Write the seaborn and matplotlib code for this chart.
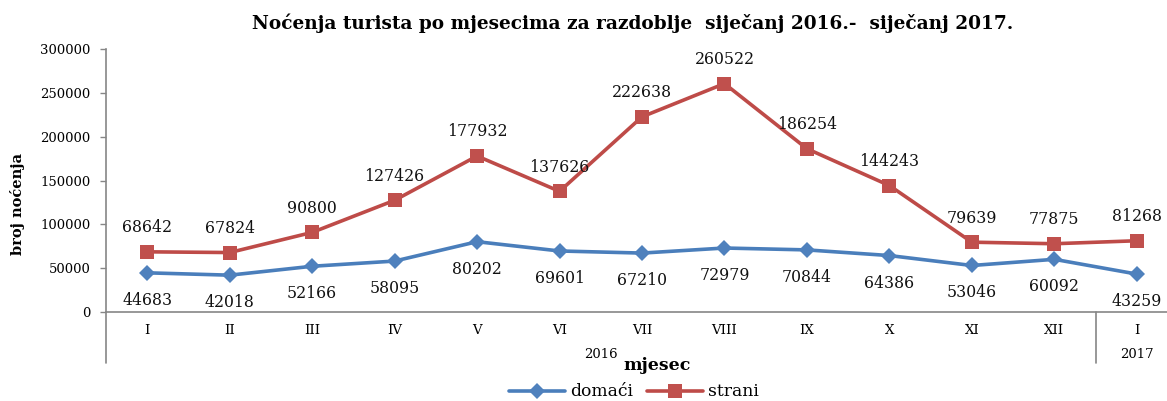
import matplotlib
matplotlib.use("Agg")
import matplotlib.pyplot as plt
import matplotlib.transforms as mtransforms
import pandas as pd
import seaborn as sns

# podaci
mjeseci = ["I", "II", "III", "IV", "V", "VI", "VII", "VIII", "IX", "X", "XI", "XII", "I"]
godine = ["2016"] * 12 + ["2017"]
domaci = [44683, 42018, 52166, 58095, 80202, 69601, 67210, 72979, 70844, 64386, 53046, 60092, 43259]
strani = [68642, 67824, 90800, 127426, 177932, 137626, 222638, 260522, 186254, 144243, 79639, 77875, 81268]
y_ticks = [0, 50000, 100000, 150000, 200000, 250000, 300000]

df = pd.DataFrame({"rb": range(len(mjeseci)), "mjesec": mjeseci, "godina": godine,
                   "domaći": domaci, "strani": strani})
long = df.melt(id_vars=["rb", "mjesec", "godina"], value_vars=["domaći", "strani"],
               var_name="serija", value_name="nocenja")

sns.set_theme(style="white")
plt.rcParams["font.family"] = ["DejaVu Serif"]
plt.rcParams["text.color"] = "black"
plt.rcParams["xtick.color"] = "black"
plt.rcParams["ytick.color"] = "black"

BLUE = "#4A7EBB"
RED = "#BE4B48"
GRAY = "#868686"

fig = plt.figure(figsize=(11.67, 4.01), dpi=100)
ax = fig.add_axes([106 / 1167, 89 / 401, 1072 / 1167, 263 / 401])

sns.lineplot(data=long, x="rb", y="nocenja", hue="serija", style="serija",
             palette={"domaći": BLUE, "strani": RED},
             markers={"domaći": "D", "strani": "s"}, dashes=False,
             linewidth=2.6, markersize=9, markeredgewidth=0, ax=ax)
for ln in ax.lines:
    if ln.get_marker() == "D":
        ln.set_markersize(8.3)
        ln.set_markerfacecolor("#4F81BD")
    elif ln.get_marker() == "s":
        ln.set_markersize(9.8)
        ln.set_markerfacecolor("#C0504D")

# oznake vrijednosti
for x, v in zip(df["rb"], df["strani"]):
    ax.annotate(f"{v}", (x, v), xytext=(0, 17.3), textcoords="offset points",
                ha="center", va="center", fontsize=11.3, color="#111111")
for x, v in zip(df["rb"], df["domaći"]):
    ax.annotate(f"{v}", (x, v), xytext=(0, -19.8), textcoords="offset points",
                ha="center", va="center", fontsize=11.3, color="#111111")

ax.set_xlim(-0.5, len(mjeseci) - 0.5)
ax.set_ylim(0, 300000)
ax.set_yticks(y_ticks)
ax.set_yticklabels([str(t) for t in y_ticks], fontsize=9.5)
ax.set_xticks(df["rb"])
ax.set_xticklabels(mjeseci, fontsize=9.5)
ax.tick_params(axis="y", length=4.3, width=1, color=GRAY, pad=7, left=True)
ax.tick_params(axis="x", length=0, pad=8.5)
ax.set_xlabel("")
ax.set_ylabel("")
ax.grid(False)
for s in ["top", "right"]:
    ax.spines[s].set_visible(False)
for s in ["left", "bottom"]:
    ax.spines[s].set_color(GRAY)
    ax.spines[s].set_linewidth(1.2)

# dvorazinska os kategorija
tr = mtransforms.blended_transform_factory(ax.transData, ax.transAxes)
ax.plot([-0.5, -0.5], [0, -51 / 263], transform=tr, color=GRAY, lw=1.2, clip_on=False)
ax.plot([11.5, 11.5], [0, -51 / 263], transform=tr, color=GRAY, lw=1.2, clip_on=False)
ax.text(5.5, -43 / 263, "2016", transform=tr, ha="center", va="center", fontsize=9.5)
ax.text(12, -43 / 263, "2017", transform=tr, ha="center", va="center", fontsize=9.5)

fig.text(633 / 1167, 1 - 23 / 401,
         "Noćenja turista po mjesecima za razdoblje  siječanj 2016.-  siječanj 2017.",
         ha="center", va="center", fontsize=13.3, fontweight="bold")
fig.text(18 / 1167, 1 - 204 / 401, "broj noćenja", rotation=90,
         ha="center", va="center", fontsize=10.5, fontweight="bold")
fig.text(657 / 1167, 1 - 365 / 401, "mjesec", ha="center", va="center",
         fontsize=12.5, fontweight="bold")

h, l = ax.get_legend_handles_labels()
leg = fig.legend(h, l, loc="center", bbox_to_anchor=(634 / 1167, 1 - 392 / 401),
                 ncol=2, frameon=False, fontsize=12.3, handlelength=3.3,
                 handletextpad=0.3, columnspacing=0.8, borderpad=0)
if ax.get_legend():
    ax.get_legend().remove()

fig.savefig("out.png", dpi=100)
